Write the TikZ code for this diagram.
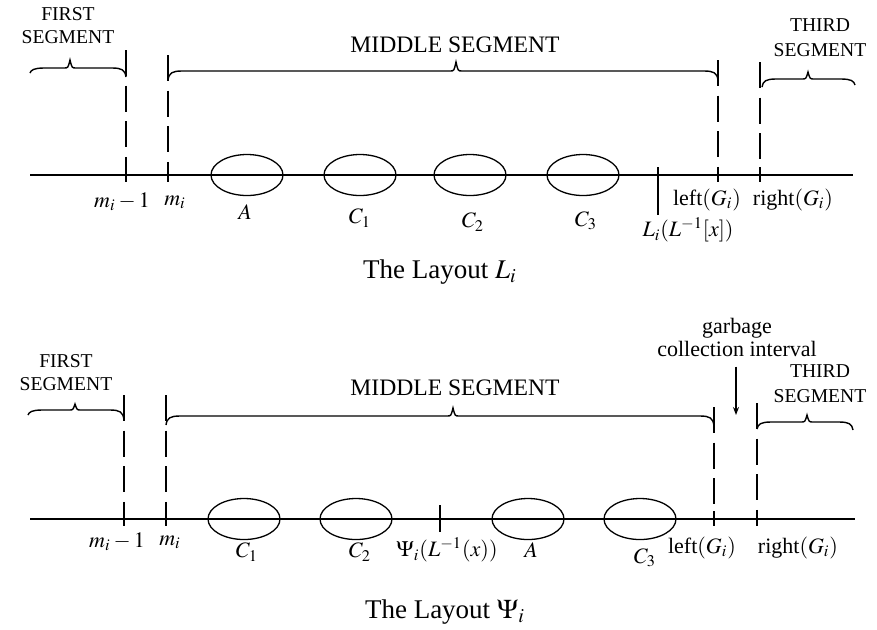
\documentclass[tikz,border=0pt]{standalone}
\usepackage{mathptmx}
\usepackage{fontspec}
\setmainfont{Liberation Serif}
\usetikzlibrary{arrows.meta,shapes.geometric}
% x1, x2, xtip, y, left drop, right drop, tip height
\newcommand{\segbrace}[7]{%
  \draw[bracestyle] ({#1},{#4+#5}) .. controls ({#1+1},{#4+2}) and ({#1+4},{#4}) .. ({#1+14},{#4})
    -- ({#3-6},{#4}) .. controls ({#3-2},{#4}) .. ({#3},{#4-#7})
    .. controls ({#3+2},{#4}) .. ({#3+6},{#4})
    -- ({#2-14},{#4}) .. controls ({#2-4},{#4}) and ({#2-1},{#4+2}) .. ({#2},{#4+#6});}
\begin{document}
\begin{tikzpicture}[x=0.5pt,y=-0.5pt,
  axis/.style={line width=0.65pt},
  guide/.style={line width=0.6pt, dash pattern=on 13pt off 4.8pt},
  tickmark/.style={line width=0.65pt},
  bracestyle/.style={line width=0.7pt},
  blob/.style={ellipse, draw, line width=0.65pt, minimum width=36pt, minimum height=20.5pt, inner sep=0pt},
  lbl/.style={font=\fontsize{11}{13}\selectfont, inner sep=0pt},
  seg/.style={font=\fontsize{9.8}{11.5}\selectfont, align=center, inner sep=0pt},
  segthird/.style={font=\fontsize{9.8}{12.5}\selectfont, align=center, inner sep=0pt},
  segmid/.style={font=\fontsize{11.8}{13}\selectfont, inner sep=0pt},
  title/.style={font=\fontsize{13.5}{15}\selectfont, inner sep=0pt},
  note/.style={font=\fontsize{11}{11.5}\selectfont, align=center, inner sep=0pt}]
\useasboundingbox (0,0) rectangle (877,629);

% ================= TOP: The Layout L_i =================
\coordinate (tL) at (30,175);
\coordinate (tR) at (853,175);
\draw[axis] (tL) -- (tR);

% dashed guides
\coordinate (tg1top) at (126,50);  \coordinate (tg1) at (126,175);
\coordinate (tg2top) at (168,55);  \coordinate (tg2) at (168,175);
\coordinate (tg3top) at (718,60);  \coordinate (tg3) at (718,175);
\coordinate (tg4top) at (760,62);  \coordinate (tg4) at (760,175);
\foreach \g in {tg1,tg2,tg3,tg4}{
  \draw[guide] (\g top) -- (\g);
  \draw[tickmark] ([yshift=4pt]\g) -- ([yshift=-3.5pt]\g);
}
% tick for L_i(L^{-1}[x])
\coordinate (tLxa) at (658,167);
\coordinate (tLxb) at (658,215);
\draw[tickmark] (tLxa) -- (tLxb);

% ellipses
\node[blob] (tA)  at (247,175) {};
\node[blob] (tC1) at (360,175) {};
\node[blob] (tC2) at (470,175) {};
\node[blob] (tC3) at (583,175) {};

% labels
\node[lbl] (tlm1) at (122,202) {$m_i-1$};
\node[lbl] (tlm)  at (175,202) {$m_i$};
\node[lbl] (tlA)  at (245,212) {$A$};
\node[lbl] (tlC1) at (360,218) {$C_1$};
\node[lbl] (tlC2) at (473,222) {$C_2$};
\node[lbl] (tlC3) at (586,221) {$C_3$};
\node[lbl] (tlLx) at (688,230) {$L_i(L^{-1}[x])$};
\node[lbl] (tlleft)  at (707,200) {left$(G_i)$};
\node[lbl] (tlright) at (793,200) {right$(G_i)$};

% braces and segment names
\segbrace{30}{126}{70}{68}{5}{9}{8}
\segbrace{168}{718}{456}{71}{9}{9}{9}
\segbrace{762}{855}{808}{79}{8}{6}{7}
\node[seg] (tfirst) at (68,26) {FIRST\\SEGMENT};
\node[segmid] (tmid) at (455,45) {MIDDLE SEGMENT};
\node[segthird] (tthird) at (820,38) {THIRD\\SEGMENT};

\node[title] (ttitle) at (440,272) {The Layout $L_i$};

% ================= BOTTOM: The Layout Psi_i =================
\coordinate (bL) at (30,519);
\coordinate (bR) at (855,519);
\draw[axis] (bL) -- (bR);

\coordinate (bg1top) at (124,395); \coordinate (bg1) at (124,519);
\coordinate (bg2top) at (166,395); \coordinate (bg2) at (166,519);
\coordinate (bg3top) at (714,407); \coordinate (bg3) at (714,519);
\coordinate (bg4top) at (757,403); \coordinate (bg4) at (757,519);
\foreach \g in {bg1,bg2,bg3,bg4}{
  \draw[guide] (\g top) -- (\g);
  \draw[tickmark] ([yshift=4pt]\g) -- ([yshift=-3.5pt]\g);
}
% tick for Psi_i(L^{-1}(x))
\coordinate (bPxa) at (440,505);
\coordinate (bPxb) at (440,532);
\draw[tickmark] (bPxa) -- (bPxb);

\node[blob] (bC1) at (244,519) {};
\node[blob] (bC2) at (356,519) {};
\node[blob] (bA)  at (528,519) {};
\node[blob] (bC3) at (640,519) {};

\node[lbl] (blm1) at (117,542) {$m_i-1$};
\node[lbl] (blm)  at (170,542) {$m_i$};
\node[lbl] (blC1) at (247,552) {$C_1$};
\node[lbl] (blC2) at (360,552) {$C_2$};
\node[lbl] (blPx) at (447,550) {$\Psi_i(L^{-1}(x))$};
\node[lbl] (blA)  at (531,550) {$A$};
\node[lbl] (blC3) at (645,558) {$C_3$};
\node[lbl] (blleft)  at (702,548) {left$(G_i)$};
\node[lbl] (blright) at (798,548) {right$(G_i)$};

\segbrace{28}{124}{75}{410}{5}{10}{6}
\segbrace{166}{714}{453}{416}{9}{10}{8}
\segbrace{757}{853}{807}{422}{7}{8}{7}
\node[seg] (bfirst) at (66,373) {FIRST\\SEGMENT};
\node[segmid] (bmid) at (455,388) {MIDDLE SEGMENT};
\node[segthird] (bthird) at (820,384) {THIRD\\SEGMENT};

\node[note] (garb) at (737,337) {garbage\\collection interval};
\coordinate (garbend) at (736,415);
\draw[line width=0.6pt, -{Stealth[length=4pt,width=3pt]}] ([yshift=-5pt]garb.south -| garbend) -- (garbend);

\node[title] (btitle) at (445,612) {The Layout $\Psi_i$};
\end{tikzpicture}
\end{document}
